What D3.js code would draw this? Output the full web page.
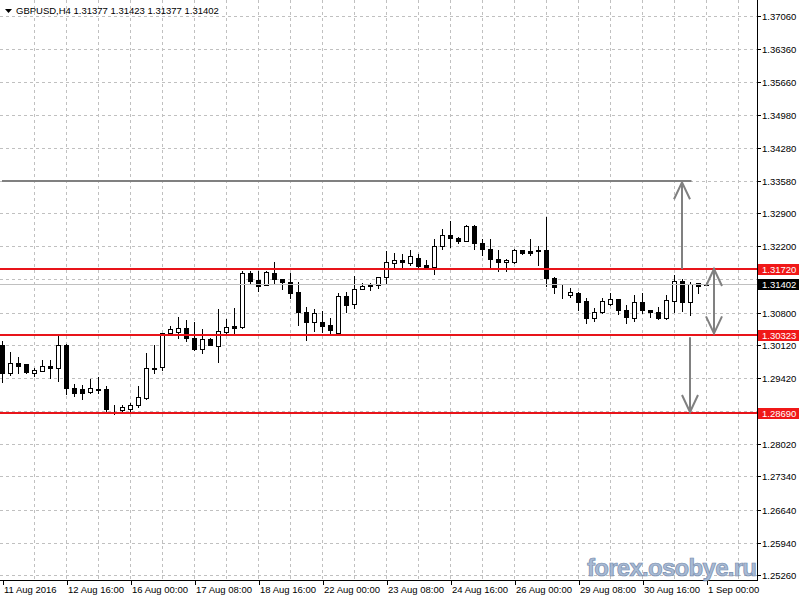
<!DOCTYPE html>
<html>
<head>
<meta charset="utf-8">
<script src="https://cdn.jsdelivr.net/npm/d3@7"></script>
<style>
html,body{margin:0;padding:0;background:#fff;}
svg{display:block;}
text{font-family:"Liberation Sans",Arial,sans-serif;}
</style>
</head>
<body>
<svg id="chart" width="800" height="600"></svg>
<script>
// ---- data ----
const symbolTitle = "GBPUSD,H4";
const lastOHLC = [1.31377, 1.31423, 1.31377, 1.31402];

const opens = [1.3012,1.2952,1.2974,1.2972,1.2952,1.2957,1.2967,1.2962,1.3012,1.2920,
1.2919,1.2912,1.2918,1.2919,1.2876,1.2874,1.2877,1.2884,1.2900,1.2963,
1.2965,1.3036,1.3038,1.3047,1.3026,1.3004,1.3024,1.3010,1.3038,1.3051,
1.3050,1.3163,1.3149,1.3138,1.3163,1.3151,1.3144,1.3123,1.3082,1.3061,
1.3061,1.3054,1.3036,1.3115,1.3098,1.3129,1.3138,1.3138,1.3154,1.3185,
1.3191,1.3185,1.3195,1.3180,1.3176,1.3221,1.3244,1.3237,1.3232,1.3263,
1.3226,1.3214,1.3192,1.3186,1.3186,1.3212,1.3210,1.3212,1.3212,1.3152,
1.3118,1.3117,1.3121,1.3105,1.3068,1.3081,1.3098,1.3109,1.3085,1.3068,
1.3103,1.3085,1.3081,1.3068,1.3105,1.3147,1.3102,1.3142,1.31377];
const highs = [1.3020,1.2997,1.2986,1.2972,1.2962,1.2979,1.2979,1.3033,1.3014,1.2929,
1.2927,1.2939,1.2943,1.2924,1.2885,1.2885,1.2889,1.2925,1.2994,1.3012,
1.3037,1.3052,1.3070,1.3064,1.3061,1.3045,1.3026,1.3087,1.3067,1.3089,
1.3168,1.3168,1.3168,1.3168,1.3186,1.3151,1.3163,1.3145,1.3091,1.3087,
1.3083,1.3068,1.3122,1.3124,1.3157,1.3142,1.3142,1.3156,1.3210,1.3205,
1.3204,1.3212,1.3204,1.3191,1.3235,1.3256,1.3273,1.3239,1.3265,1.3265,
1.3235,1.3235,1.3212,1.3192,1.3214,1.3212,1.3235,1.3220,1.3281,1.3156,
1.3140,1.3131,1.3124,1.3110,1.3089,1.3110,1.3121,1.3109,1.3096,1.3116,
1.3121,1.3085,1.3091,1.3117,1.3159,1.3150,1.3145,1.3143,1.31423];
const lows = [1.2934,1.2948,1.2953,1.2952,1.2946,1.2956,1.2941,1.2936,1.2908,1.2904,
1.2898,1.2911,1.2911,1.2873,1.2866,1.2873,1.2872,1.2880,1.2897,1.2952,
1.2959,1.3035,1.3026,1.3021,1.3001,1.2994,1.3011,1.2976,1.3037,1.3036,
1.3047,1.3142,1.3126,1.3138,1.3142,1.3129,1.3110,1.3054,1.3022,1.3042,
1.3040,1.3036,1.3033,1.3082,1.3089,1.3129,1.3128,1.3131,1.3142,1.3177,
1.3177,1.3180,1.3177,1.3173,1.3161,1.3214,1.3219,1.3226,1.3230,1.3214,
1.3202,1.3173,1.3168,1.3168,1.3185,1.3204,1.3202,1.3180,1.3135,1.3121,
1.3110,1.3112,1.3085,1.3059,1.3063,1.3079,1.3096,1.3077,1.3059,1.3063,
1.3079,1.3071,1.3066,1.3066,1.3082,1.3083,1.3075,1.3122,1.31377];
const closes = [1.2953,1.2974,1.2968,1.2955,1.2959,1.2967,1.2962,1.3012,1.2920,1.2911,
1.2911,1.2920,1.2917,1.2876,1.2877,1.2881,1.2885,1.2902,1.2962,1.2960,
1.3036,1.3045,1.3047,1.3026,1.3004,1.3024,1.3012,1.3041,1.3049,1.3048,
1.3164,1.3147,1.3137,1.3166,1.3150,1.3144,1.3122,1.3082,1.3061,1.3079,
1.3052,1.3043,1.3115,1.3096,1.3129,1.3135,1.3137,1.3154,1.3186,1.3191,
1.3187,1.3199,1.3179,1.3175,1.3221,1.3244,1.3237,1.3232,1.3263,1.3226,
1.3214,1.3192,1.3187,1.3191,1.3212,1.3206,1.3205,1.3209,1.3152,1.3133,
1.3117,1.3123,1.3103,1.3068,1.3081,1.3105,1.3109,1.3085,1.3070,1.3103,
1.3085,1.3081,1.3068,1.3107,1.3147,1.3102,1.3140,1.3137,1.31402];

const timeLabels = ["11 Aug 2016","12 Aug 16:00","16 Aug 00:00","17 Aug 08:00","18 Aug 16:00",
"22 Aug 00:00","23 Aug 08:00","24 Aug 16:00","26 Aug 00:00","29 Aug 08:00","30 Aug 16:00","1 Sep 00:00"];
const barsPerLabel = 8;
const barsPerGrid = 4;

const priceTicks = [1.37060,1.36360,1.35660,1.34980,1.34280,1.33580,1.32900,1.32200,1.31500,
1.30800,1.30120,1.29420,1.28720,1.28020,1.27340,1.26640,1.25940,1.25260];

const redLevels = [1.31720, 1.30323, 1.28690];
const targetLevel = 1.33580;
const targetEndBar = 86;
const arrowBars = [85, 89, 86];
const arrowFrom = [1.31720, 1.31720, 1.30280];
const arrowTo   = [1.33550, 1.30360, 1.28700];
const arrowBoth = [false, true, false];
const watermark = "forex.osobye.ru";

// ---- layout ----
const plotRight = 757, plotBottom = 580;
const svg = d3.select("#chart");

const x = d3.scaleLinear().domain([0, 1]).range([2.5, 10.5]);
const y = d3.scaleLinear().domain([1.25260, 1.37060]).range([575, 16]);
const fmt = d3.format(".5f");
const ry = p => Math.round(y(p)) + 0.5;

// grid
const grid = svg.append("g").attr("stroke", "#c0c0c0").attr("stroke-dasharray", "3,3").attr("stroke-width", 1);
const nGrid = Math.floor((plotRight - 2.5) / (8 * barsPerGrid));
grid.selectAll("line.v").data(d3.range(1, nGrid + 1)).join("line")
  .attr("x1", d => x(d * barsPerGrid)).attr("x2", d => x(d * barsPerGrid))
  .attr("y1", 0).attr("y2", plotBottom);
grid.selectAll("line.h").data(priceTicks).join("line")
  .attr("x1", 0).attr("x2", plotRight)
  .attr("y1", d => ry(d)).attr("y2", d => ry(d));

// candles
const bars = opens.map((o, i) => ({i, o, h: highs[i], l: lows[i], c: closes[i]}));
const cg = svg.append("g");
cg.selectAll("line.wick").data(bars).join("line")
  .attr("x1", d => x(d.i)).attr("x2", d => x(d.i))
  .attr("y1", d => Math.round(y(d.h))).attr("y2", d => Math.round(y(d.l)) + 1)
  .attr("stroke", "#000").attr("stroke-width", 1);
cg.selectAll("rect.body").data(bars).join("rect")
  .attr("x", d => x(d.i) - 2).attr("width", 4)
  .attr("y", d => Math.min(ry(d.o), ry(d.c)))
  .attr("height", d => Math.abs(ry(d.o) - ry(d.c)))
  .attr("fill", d => d.c >= d.o ? "#fff" : "#000")
  .attr("stroke", "#000").attr("stroke-width", 1);

// current price line
svg.append("line").attr("x1", 0).attr("x2", plotRight)
  .attr("y1", ry(lastOHLC[3])).attr("y2", ry(lastOHLC[3]))
  .attr("stroke", "#c0c0c0").attr("stroke-width", 1);

// target gray level
svg.append("line").attr("x1", 2).attr("x2", x(targetEndBar) + 1)
  .attr("y1", Math.round(y(targetLevel))).attr("y2", Math.round(y(targetLevel)))
  .attr("stroke", "#808080").attr("stroke-width", 2);

// red levels
svg.selectAll("line.red").data(redLevels).join("line")
  .attr("x1", 0).attr("x2", plotRight)
  .attr("y1", d => Math.round(y(d))).attr("y2", d => Math.round(y(d)))
  .attr("stroke", "#e8141a").attr("stroke-width", 2);

// arrows
const ag = svg.append("g").attr("stroke", "#808080").attr("stroke-width", 2).attr("fill", "none");
arrowBars.forEach((b, k) => {
  const ax = x(b) - 0.5, y0 = y(arrowFrom[k]), y1 = y(arrowTo[k]);
  const dir = y1 < y0 ? 1 : -1;
  ag.append("line").attr("x1", ax).attr("x2", ax).attr("y1", y0).attr("y2", y1);
  const head = (py, d) => ag.append("path")
    .attr("d", `M${ax - 8},${py + d * 17}L${ax},${py}L${ax + 8},${py + d * 17}`);
  head(y1, dir);
  if (arrowBoth[k]) head(y0, -dir);
});

// axes
svg.append("line").attr("x1", plotRight + 0.5).attr("x2", plotRight + 0.5).attr("y1", 0).attr("y2", plotBottom + 1)
  .attr("stroke", "#000");
svg.append("line").attr("x1", 0).attr("x2", plotRight + 1).attr("y1", plotBottom + 0.5).attr("y2", plotBottom + 0.5)
  .attr("stroke", "#000");

// price boxes on the right axis (they hide grid labels beneath them)
const boxes = redLevels.map(v => ({v, fill: "#f01818"})).concat([{v: lastOHLC[3], fill: "#000"}]);
const hidden = v => boxes.some(b => Math.abs(y(b.v) - y(v)) < 8);

const yAxisG = svg.append("g");
yAxisG.selectAll("line").data(priceTicks).join("line")
  .attr("x1", plotRight).attr("x2", plotRight + 4)
  .attr("y1", d => ry(d)).attr("y2", d => ry(d)).attr("stroke", "#000");
yAxisG.selectAll("text").data(priceTicks.filter(v => !hidden(v))).join("text")
  .attr("x", 762).attr("y", d => ry(d) + 3.5)
  .attr("font-size", "9.5px").attr("fill", "#000").text(d => fmt(d));

const xAxisG = svg.append("g");
xAxisG.selectAll("line").data(timeLabels).join("line")
  .attr("x1", (d, i) => Math.round(x(i * barsPerLabel)) + 0.5).attr("x2", (d, i) => Math.round(x(i * barsPerLabel)) + 0.5)
  .attr("y1", plotBottom).attr("y2", plotBottom + 5).attr("stroke", "#000");
xAxisG.selectAll("text").data(timeLabels).join("text")
  .attr("x", (d, i) => x(i * barsPerLabel) + 1.5).attr("y", 593)
  .attr("font-size", "9.5px").attr("fill", "#000").text(d => d);

const bg = svg.append("g");
boxes.forEach(b => {
  const cy = Math.round(y(b.v));
  bg.append("rect").attr("x", plotRight + 1).attr("y", cy - 5).attr("width", 41).attr("height", 11).attr("fill", b.fill);
  bg.append("text").attr("x", 762).attr("y", cy + 4).attr("font-size", "9.5px").attr("fill", "#fff").text(fmt(b.v));
});

// header
svg.append("path").attr("d", "M5,9L12,9L8.5,13Z").attr("fill", "#000");
svg.append("text").attr("x", 16).attr("y", 14).attr("font-size", "9.5px").attr("fill", "#000")
  .text(symbolTitle + "  " + lastOHLC.map(fmt).join(" "));

// watermark
svg.append("text").attr("x", 587).attr("y", 576)
  .attr("font-size", "24px").attr("font-weight", "bold").attr("textLength", 170)
  .attr("fill", "#9fb3d0").attr("stroke", "#6a82a6").attr("stroke-width", 0.7).attr("opacity", 0.9)
  .text(watermark);
</script>
</body>
</html>
